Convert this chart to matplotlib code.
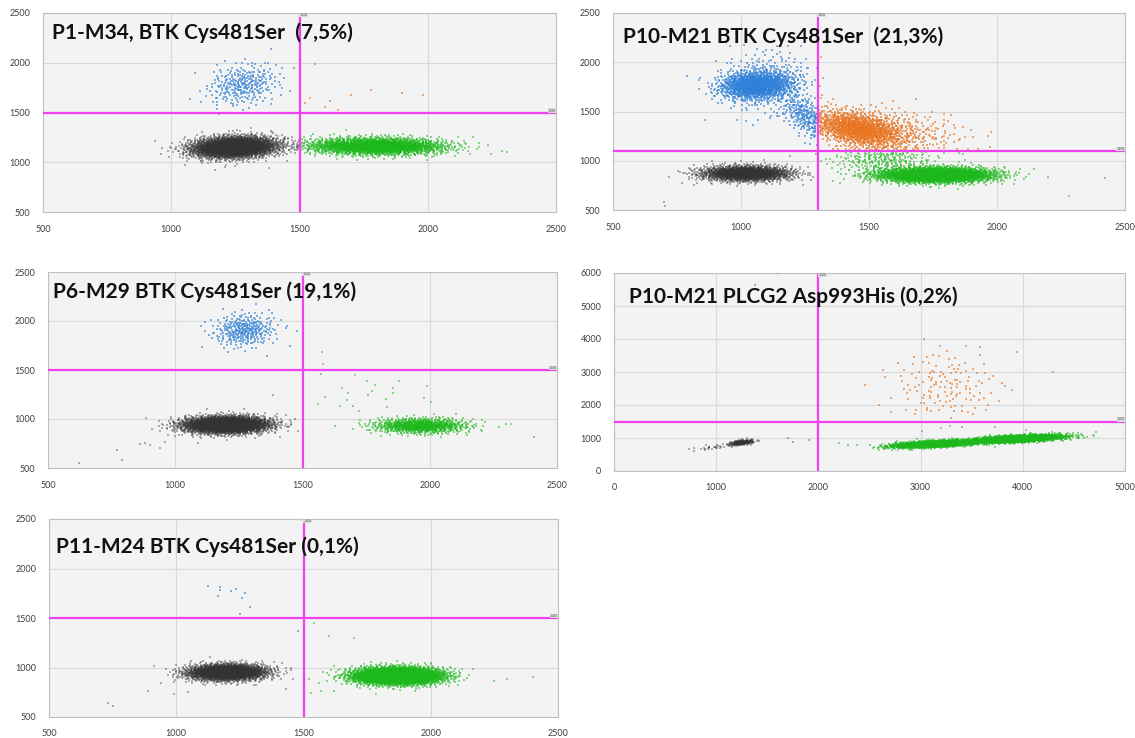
import numpy as np
import matplotlib
matplotlib.use("Agg")
import matplotlib.pyplot as plt

plt.rcParams['font.family'] = ['Lato', 'DejaVu Sans']

# ---------------- data ----------------
# Each panel: title, axis range, threshold lines, droplet clusters
# (centre, spread, correlation, droplet count) and isolated droplets.

p1_title = "P1-M34, BTK Cys481Ser  (7,5%)"
p1_xlim = (500, 2500); p1_ylim = (500, 2500)
p1_xticks = [500, 1000, 1500, 2000, 2500]
p1_yticks = [500, 1000, 1500, 2000, 2500]
p1_thr = (1500, 1500)
p1_cx = [1245, 1800, 1280]
p1_cy = [1150, 1160, 1780]
p1_sx = [80, 130, 70]
p1_sy = [52, 42, 105]
p1_rho = [0.15, -0.05, 0.2]
p1_n = [4200, 2600, 300]
p1_out_x = [1560, 1540, 1620, 1700, 1780, 1900, 1980, 1600, 1650, 1520, 1170, 1210, 1380, 2310, 2290]
p1_out_y = [1990, 1650, 1620, 1680, 1730, 1700, 1680, 1560, 1530, 1600, 920, 950, 940, 1100, 1110]

p2_title = "P10-M21 BTK Cys481Ser  (21,3%)"
p2_xlim = (500, 2500); p2_ylim = (500, 2500)
p2_xticks = [500, 1000, 1500, 2000, 2500]
p2_yticks = [500, 1000, 1500, 2000, 2500]
p2_thr = (1300, 1100)
p2_cx = [1020, 1060, 1110, 1245, 1460, 1600, 1760, 1550]
p2_cy = [870, 1765, 1800, 1470, 1320, 1300, 855, 1010]
p2_sx = [85, 70, 90, 45, 85, 140, 110, 100]
p2_sy = [38, 70, 170, 110, 90, 120, 38, 70]
p2_rho = [0.0, 0.1, 0.0, -0.5, -0.4, -0.3, 0.0, 0.0]
p2_n = [2300, 1400, 300, 220, 1300, 350, 3500, 260]
p2_out_x = [700, 705, 770, 2200, 2280, 2420, 1190, 1250]
p2_out_y = [580, 540, 770, 840, 640, 820, 1050, 1180]

p3_title = "P6-M29 BTK Cys481Ser (19,1%)"
p3_xlim = (500, 2500); p3_ylim = (500, 2500)
p3_xticks = [500, 1000, 1500, 2000, 2500]
p3_yticks = [500, 1000, 1500, 2000, 2500]
p3_thr = (1500, 1500)
p3_cx = [1200, 1270, 1965, 1750]
p3_cy = [940, 1905, 930, 1250]
p3_sx = [82, 60, 90, 140]
p3_sy = [42, 85, 38, 130]
p3_rho = [0.05, 0.1, 0.0, 0.0]
p3_n = [4200, 320, 1000, 25]
p3_out_x = [620, 790, 770, 860, 880, 900, 940, 960, 1000, 1050, 1090, 1580, 1450, 1480, 1440, 2410, 2320, 2300]
p3_out_y = [550, 580, 680, 740, 760, 730, 700, 770, 830, 880, 760, 1560, 1750, 1900, 1950, 820, 950, 950]

p4_title = "P10-M21 PLCG2 Asp993His (0,2%)"
p4_xlim = (0, 5000); p4_ylim = (0, 6000)
p4_xticks = [0, 1000, 2000, 3000, 4000, 5000]
p4_yticks = [0, 1000, 2000, 3000, 4000, 5000, 6000]
p4_thr = (2000, 1500)
p4_cx = [1250, 980, 3150, 3950, 3250]
p4_cy = [860, 720, 820, 975, 2550]
p4_sx = [60, 110, 200, 220, 280]
p4_sy = [40, 50, 55, 60, 580]
p4_rho = [0.5, 0.7, 0.55, 0.55, 0.0]
p4_n = [260, 30, 2600, 2600, 150]
p4_out_x = [1600, 1380, 1700, 1750, 1910, 2200, 2290, 4300, 4600, 2650, 2700]
p4_out_y = [6000, 5650, 1000, 880, 930, 840, 780, 3000, 1000, 720, 760]

p5_title = "P11-M24 BTK Cys481Ser (0,1%)"
p5_xlim = (500, 2500); p5_ylim = (500, 2500)
p5_xticks = [500, 1000, 1500, 2000, 2500]
p5_yticks = [500, 1000, 1500, 2000, 2500]
p5_thr = (1500, 1500)
p5_cx = [1200, 1870]
p5_cy = [950, 915]
p5_sx = [75, 85]
p5_sy = [40, 42]
p5_rho = [0.05, 0.0]
p5_n = [3200, 4500]
p5_out_x = [1125, 1170, 1170, 1165, 1215, 1235, 1270, 1260, 1290, 1250,
            730, 750, 890, 940, 990, 1045, 1430, 1480, 1450,
            1540, 1600, 1700, 1520, 1530, 1570, 1620, 2300, 2400, 2250]
p5_out_y = [1820, 1810, 1780, 1720, 1770, 1790, 1750, 1700, 1610, 1540,
            640, 610, 760, 840, 730, 750, 780, 1370, 1000,
            1450, 1320, 1300, 880, 740, 760, 760, 880, 900, 860]

# ---------------- styling ----------------
W, H = 1135, 738
COL_NEG = '#333333'
COL_FAM = '#1cb81c'
COL_HEX = '#2f80d8'
COL_DBL = '#e8731e'
COL_THR = '#f040f0'


def radical_inverse(idx, base):
    idx = idx.astype(np.int64).copy()
    out = np.zeros(len(idx))
    f = 1.0 / base
    while np.any(idx > 0):
        out += f * (idx % base)
        idx //= base
        f /= base
    return out


def cloud(cx, cy, sx, sy, rho, n, start):
    # deterministic (Halton) gaussian cloud around the read-off cluster centre
    i = np.arange(start + 1, start + n + 1)
    u1 = np.clip(radical_inverse(i, 2), 1e-6, 1.0)
    u2 = radical_inverse(i, 3)
    r = np.sqrt(-2.0 * np.log(u1))
    th = 2 * np.pi * u2
    z1 = r * np.cos(th)
    z2 = r * np.sin(th)
    x = cx + sx * z1
    y = cy + sy * (rho * z1 + np.sqrt(1 - rho ** 2) * z2)
    return x, y


def rect(x0, y0, x1, y1):
    return [x0 / W, 1 - y1 / H, (x1 - x0) / W, (y1 - y0) / H]


fig = plt.figure(figsize=(W / 100, H / 100), dpi=100)
fig.patch.set_facecolor('white')

panels = [
    (p1_title, p1_xlim, p1_ylim, p1_xticks, p1_yticks, p1_thr, p1_cx, p1_cy, p1_sx, p1_sy, p1_rho, p1_n, p1_out_x, p1_out_y),
    (p2_title, p2_xlim, p2_ylim, p2_xticks, p2_yticks, p2_thr, p2_cx, p2_cy, p2_sx, p2_sy, p2_rho, p2_n, p2_out_x, p2_out_y),
    (p3_title, p3_xlim, p3_ylim, p3_xticks, p3_yticks, p3_thr, p3_cx, p3_cy, p3_sx, p3_sy, p3_rho, p3_n, p3_out_x, p3_out_y),
    (p4_title, p4_xlim, p4_ylim, p4_xticks, p4_yticks, p4_thr, p4_cx, p4_cy, p4_sx, p4_sy, p4_rho, p4_n, p4_out_x, p4_out_y),
    (p5_title, p5_xlim, p5_ylim, p5_xticks, p5_yticks, p5_thr, p5_cx, p5_cy, p5_sx, p5_sy, p5_rho, p5_n, p5_out_x, p5_out_y),
]
rects = [(43, 13, 556, 212), (613, 13, 1125, 210), (48, 272, 557, 468),
         (614, 273, 1125, 471), (49, 519, 558, 717)]
title_pos = [(52, 39), (623, 43), (53, 298), (629, 303), (56, 553)]

for k, (title, xlim, ylim, xt, yt, thr, cx, cy, sx, sy, rho, n, ox, oy) in enumerate(panels):
    ax = fig.add_axes(rect(*rects[k]))
    ax.set_facecolor('#f3f3f3')
    xs, ys = [], []
    start = 37 + 977 * k
    for j in range(len(cx)):
        x, y = cloud(cx[j], cy[j], sx[j], sy[j], rho[j], n[j], start)
        start += n[j] + 311
        xs.append(x); ys.append(y)
    xs.append(np.array(ox, float)); ys.append(np.array(oy, float))
    x = np.concatenate(xs); y = np.concatenate(ys)
    tx, ty = thr
    groups = [
        ((x < tx) & (y < ty), COL_NEG, 0.38),
        ((x >= tx) & (y < ty), COL_FAM, 0.5),
        ((x < tx) & (y >= ty), COL_HEX, 0.6),
        ((x >= tx) & (y >= ty), COL_DBL, 0.6),
    ]
    for m, c, a in groups:
        ax.scatter(x[m], y[m], s=1.3, marker='s', c=c, alpha=a, linewidths=0,
                   zorder=3, clip_on=True)
    ax.axvline(tx, color=COL_THR, lw=1.6, zorder=4)
    ax.axhline(ty, color=COL_THR, lw=1.6, zorder=4)
    ax.text(tx, ylim[1], f"{tx}", fontsize=2.5, color='#555555', ha='left', va='top',
            zorder=5, bbox=dict(boxstyle='square,pad=0.1', fc='#dddddd', ec='none'))
    ax.text(xlim[1], ty, f"{ty}", fontsize=2.5, color='#555555', ha='right', va='bottom',
            zorder=5, bbox=dict(boxstyle='square,pad=0.1', fc='#dddddd', ec='none'))
    ax.set_xlim(*xlim); ax.set_ylim(*ylim)
    ax.set_xticks(xt); ax.set_yticks(yt)
    ax.set_xticklabels([str(v) for v in xt])
    ax.set_yticklabels([str(v) for v in yt])
    ax.grid(True, color='#d9d9d9', lw=0.8, zorder=0)
    ax.set_axisbelow(True)
    ax.tick_params(length=0, labelsize=6.5, colors='#404040')
    ax.tick_params(axis='y', pad=9)
    ax.tick_params(axis='x', pad=9)
    for s in ax.spines.values():
        s.set_color('#c0c0c0'); s.set_linewidth(0.8)
    tpx, tpy = title_pos[k]
    fig.text(tpx / W, 1 - tpy / H, title, fontsize=15, fontweight='bold',
             color='#111111', ha='left', va='baseline', zorder=10)

fig.savefig("out.png", dpi=100, facecolor='white')
